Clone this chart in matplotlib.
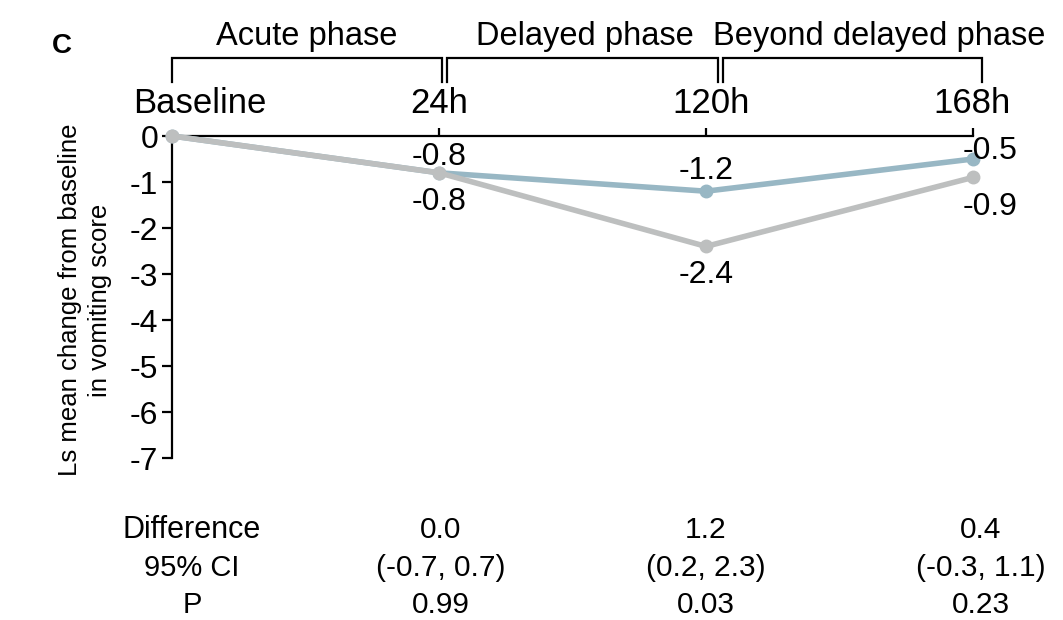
import matplotlib
matplotlib.use("Agg")
import matplotlib.pyplot as plt
import matplotlib.transforms as mtransforms
from matplotlib import font_manager

# ---------------- data ----------------
timepoints = ["Baseline", "24h", "120h", "168h"]
series_a = [0.0, -0.8, -1.2, -0.5]   # blue-grey
series_b = [0.0, -0.8, -2.4, -0.9]   # grey
phases = ["Acute phase", "Delayed phase", "Beyond delayed phase"]
row_labels = ["Difference", "95% CI", "P"]
diff_vals = ["0.0", "1.2", "0.4"]
ci_vals = ["(-0.7, 0.7)", "(0.2, 2.3)", "(-0.3, 1.1)"]
p_vals = ["0.99", "0.03", "0.23"]
yticks = [0, -1, -2, -3, -4, -5, -6, -7]
ylabel = "Ls mean change from baseline\nin vomiting score"

# ---------------- fonts ----------------
names = {f.name for f in font_manager.fontManager.ttflist}
MAIN = ["Liberation Sans", "DejaVu Sans"]
NARROW = (["Liberation Sans Narrow", "Liberation Sans", "DejaVu Sans"]
          if "Liberation Sans Narrow" in names else MAIN)
plt.rcParams["font.family"] = MAIN

BLUE = "#98b7c4"
GREY = "#bdbfbf"

fig = plt.figure(figsize=(10.63, 6.20), dpi=100)
ax = fig.add_axes([172/1063, 1-458/620, (973-172)/1063, (458-136)/620])

x = list(range(len(timepoints)))
ax.plot(x, series_a, color=BLUE, lw=4, marker="o", ms=9, clip_on=False, zorder=3)
ax.plot(x, series_b, color=GREY, lw=4, marker="o", ms=9, clip_on=False, zorder=4)

ax.set_xlim(0, 3)
ax.set_ylim(-7, 0)
for s in ["right", "bottom"]:
    ax.spines[s].set_visible(False)
for s in ["top", "left"]:
    ax.spines[s].set_linewidth(1.6)
ax.xaxis.tick_top()
ax.set_xticks(x[1:])
ax.set_xticklabels([])
ax.tick_params(axis="x", direction="out", length=6, width=1.6)
ax.set_yticks(yticks)
ax.set_yticklabels([str(v) for v in yticks], fontsize=23)
ax.tick_params(axis="y", direction="out", length=7, width=1.6, pad=3)

# y label
fig.text(85/1063, 1-300/620, ylabel, rotation=90, ha="center", va="center",
         fontsize=18.5, family=NARROW, linespacing=1.35)

# panel letter
fig.text(62/1063, 1-46/620, "C", fontsize=20, fontweight="bold", ha="center", va="center")

bt = mtransforms.blended_transform_factory(ax.transData, ax.transAxes)

# time labels above axis
time_label_x = [0.105, 1.0, 2.02, 2.996]
for lab, tx in zip(timepoints, time_label_x):
    ax.text(tx, 1.071, lab, transform=bt, ha="center", va="baseline", fontsize=25)

# brackets
bracket_ext = [(0.0, 1.011), (1.030, 2.045), (2.064, 3.034)]
y_top, y_bot = 1.242, 1.168
for (x0, x1) in bracket_ext:
    ax.plot([x0, x0, x1, x1], [y_bot, y_top, y_top, y_bot], transform=bt,
            color="black", lw=1.6, clip_on=False, solid_joinstyle="miter")
phase_x = [0.506, 1.547, 2.648]
for lab, px in zip(phases, phase_x):
    ax.text(px, 1.283, lab, transform=bt, ha="center", va="baseline", fontsize=23.5)

# data labels (baseline offsets in pixels)
a_off = [None, (0, 8), (0, 12), (17, 0)]
b_off = [None, (0, -37), (0, -37), (17, -38)]
for i in range(1, len(x)):
    ax.annotate(f"{series_a[i]:.1f}", (x[i], series_a[i]), xytext=a_off[i],
                textcoords="offset pixels", ha="center", va="baseline", fontsize=23, zorder=6)
    ax.annotate(f"{series_b[i]:.1f}", (x[i], series_b[i]), xytext=b_off[i],
                textcoords="offset pixels", ha="center", va="baseline", fontsize=23, zorder=6)

# table below
row_y = [-0.224, -0.342, -0.457]
for lab, ry in zip(row_labels, row_y):
    ax.text(0.075, ry, lab, transform=bt, ha="center", va="center",
            fontsize=22 if lab == "Difference" else 21, family=NARROW)
col_x = [1.007, 2.0, 3.03]
for vals, ry in zip([diff_vals, ci_vals, p_vals], row_y):
    for v, cx in zip(vals, col_x):
        ax.text(cx, ry, v, transform=bt, ha="center", va="center", fontsize=21.5, family=NARROW)

fig.savefig("out.png", dpi=100)
